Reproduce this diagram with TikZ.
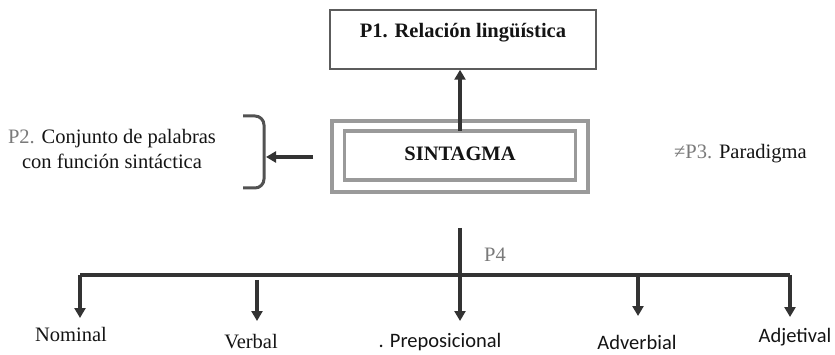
\documentclass[tikz,border=0pt]{standalone}
\usepackage{fontspec}
\setmainfont{Liberation Serif}
\newfontfamily\calib{Carlito}
\usetikzlibrary{arrows.meta}
\definecolor{ink}{HTML}{333333}
\definecolor{txt}{HTML}{141414}
\definecolor{soft}{HTML}{7A7A7A}
\definecolor{frame}{HTML}{9A9A9A}
\tikzset{
  arr/.style={draw=ink, line width=3.3pt, -{Triangle[length=10pt,width=11pt]}},
  ln/.style={draw=ink, line width=3.3pt},
  lbl/.style={inner sep=0pt, text=txt, font=\fontsize{20.5}{24}\selectfont},
  dbl/.style={draw=frame, line width=3.4pt, inner sep=0pt},
}
\begin{document}
\begin{tikzpicture}[x=1pt,y=-1pt]
\useasboundingbox (0,0) rectangle (835,355);
% P1 box
\node[draw=ink!80, line width=1.5pt, minimum width=266pt, minimum height=59pt, inner sep=0pt] (p1) at (463,39.5) {};
\node[lbl, font=\fontsize{20.5}{24}\selectfont\bfseries] (p1t) at (463,33) {P1. Relación lingüística};
% Sintagma double frame
\node[dbl, minimum width=256pt, minimum height=71pt] (outer) at (460,156.5) {};
\node[dbl, minimum width=231pt, minimum height=49pt] (inner) at (460,155.5) {};
\node[lbl, font=\fontsize{20.5}{24}\selectfont\bfseries] (sint) at (460,154) {SINTAGMA};
% up arrow
\coordinate (upstart) at (460,131);
\draw[arr] (upstart) -- (p1.south -| upstart);
% left arrow and bracket
\coordinate (lstart) at (313,157);
\coordinate (brmid) at (266,157);
\coordinate (brtop) at (243,116);
\coordinate (brbot) at (243,188);
\draw[arr] (lstart) -- (brmid);
\draw[draw=ink!85, line width=3pt, rounded corners=9pt] (brtop) -| (264,157) |- (brbot);
\node[lbl, align=center] (p2) at (112,149) {\textcolor{soft}{P2.} Conjunto de palabras\\[1pt]con función sintáctica};
% P3
\node[lbl, anchor=west] (p3) at (674,154) {\textcolor{soft}{≠P3.} Paradigma};
% bottom tree
\coordinate (dtop) at (460,228);
\coordinate (hl) at (80,275);
\coordinate (hr) at (790,275);
\node[lbl] (nom) at (71,334) {Nominal};
\node[lbl] (verb) at (251,342) {Verbal};
\node[lbl, font=\fontsize{20.5}{24}\selectfont\calib] (prep) at (440,342) {. Preposicional};
\node[lbl, font=\fontsize{20.5}{24}\selectfont\calib] (adv) at (637,342) {Adverbial};
\node[lbl, font=\fontsize{20.5}{24}\selectfont\calib] (adj) at (795,337) {Adjetival};
\node[lbl, text=soft] (p4) at (495,255) {P4};
\coordinate (tnom) at (80,318);
\coordinate (vtop) at (257,280);
\coordinate (tverb) at (257,321);
\coordinate (tprep) at (460,321);
\coordinate (advtop) at (638,275);
\coordinate (tadv) at (638,316);
\coordinate (tadj) at (790,317);
\draw[ln] (hl) -- (hr);
\draw[arr] (hl) -- (tnom);
\draw[arr] (vtop) -- (tverb);
\draw[arr] (dtop) -- (tprep);
\draw[arr] (advtop) -- (tadv);
\draw[arr] (hr) -- (tadj);
\end{tikzpicture}
\end{document}
